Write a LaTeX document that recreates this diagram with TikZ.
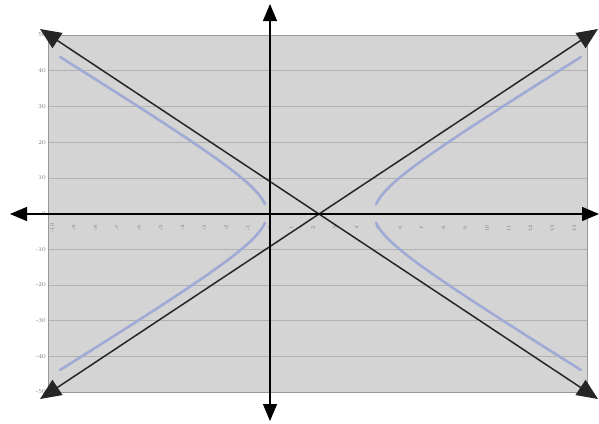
\documentclass[tikz,border=0pt]{standalone}
\usetikzlibrary{arrows.meta}
\definecolor{plotbg}{RGB}{212,212,212}
\definecolor{gridcol}{RGB}{178,178,178}
\definecolor{curvecol}{RGB}{160,170,212}
\definecolor{labelcol}{RGB}{120,120,120}

\begin{document}
\begin{tikzpicture}[
    x=1pt, y=-1pt,
    grid/.style={gridcol, line width=0.6pt},
    axis/.style={line width=1.3pt, black, {Triangle[length=17pt, width=14pt]}-{Triangle[length=17pt, width=14pt]}},
    asym/.style={line width=1.5pt, black!85, {Triangle[length=21pt, width=18pt]}-{Triangle[length=21pt, width=18pt]}},
    curve/.style={curvecol, line width=2.6pt, line cap=round},
    ylab/.style={font=\fontsize{6}{6}\selectfont, text=labelcol, anchor=east, inner sep=1pt},
    xlab/.style={font=\fontsize{5}{5}\selectfont, text=labelcol, rotate=90, inner sep=0pt},
  ]
    \useasboundingbox (0,0) rectangle (599,423);
    % plot area
    \fill[plotbg] (48,35) rectangle (587,392);
    \foreach \v in {-50,-40,...,50}{
      \draw[grid] (48,{213.5-3.57*\v}) -- (587,{213.5-3.57*\v});
      \node[ylab] (ylab\v) at (47,{213.5-3.57*\v}) {\v};
    }
    \draw[gridcol!85!black, line width=0.6pt] (48,35) rectangle (587,392);
    \foreach \i in {-10,...,14}
      \node[xlab] (xlab\i) at ({269.5+21.75*\i},228) {\i};
    % hyperbola branches
    \foreach \sx in {-1,1}
      \foreach \sy in {-1,1}
        \draw[curve] plot[domain=0.28:2.265, samples=40, smooth]
          ({320.5+\sx*53.5*cosh(\x)}, {213.5+\sy*32.85*sinh(\x)});
    % asymptotes
    \coordinate (ul) at (40,29);
    \coordinate (ur) at (598,29);
    \coordinate (ll) at (40,399);
    \coordinate (lr) at (598,399);
    \draw[asym] (ul) -- (lr);
    \draw[asym] (ll) -- (ur);
    % axes
    \coordinate (xl) at (10,214);
    \coordinate (xr) at (599,214);
    \coordinate (yt) at (270,4);
    \coordinate (yb) at (270,421);
    \draw[axis] (xl) -- (xr);
    \draw[axis] (yb) -- (yt);
  \end{tikzpicture}
\end{document}
